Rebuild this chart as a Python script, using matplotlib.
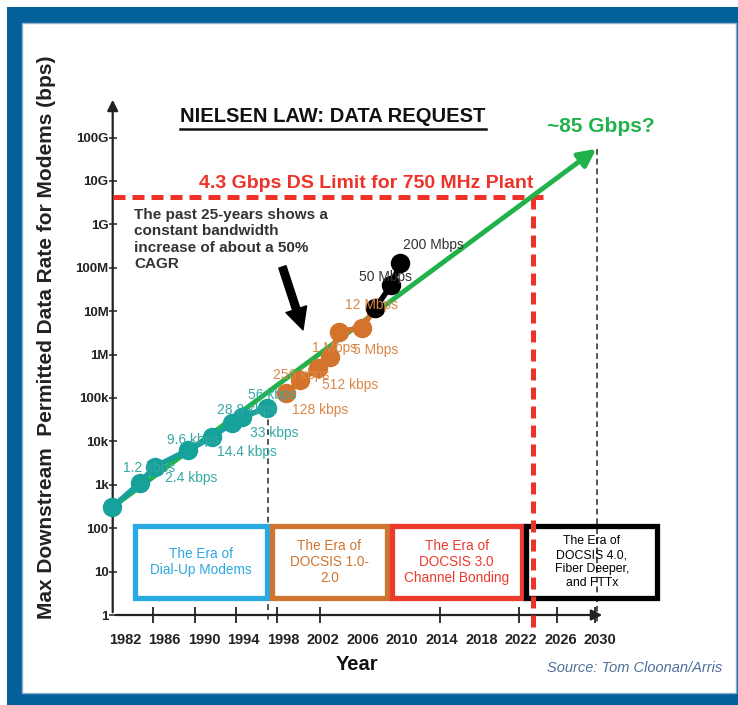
import numpy as np
import matplotlib.pyplot as plt
from matplotlib.patches import Rectangle
from matplotlib.lines import Line2D
from matplotlib.ticker import FixedLocator, NullLocator

plt.rcParams['font.family'] = ['Liberation Sans', 'DejaVu Sans']

W, H = 738, 705

# --- data ---
dial_years = [1980.7, 1983.5, 1985.0, 1988.4, 1990.8, 1992.8, 1993.8, 1996.3]
dial_bps = [300, 1.1e3, 2.6e3, 6.3e3, 1.26e4, 2.65e4, 3.6e4, 5.9e4]
dial_labels = ['300 bps', '1.2 kbps', '2.4 kbps', '9.6 kbps', '14.4 kbps',
               '28.8 kbps', '33 kbps', '56 kbps']

docsis_years = [1998.3, 1999.7, 2001.5, 2002.7, 2003.6, 2005.9, 2007.3]
docsis_bps = [1.29e5, 2.57e5, 4.8e5, 8.9e5, 3.4e6, 4.1e6, 1.2e7]
docsis_labels = ['128 kbps', '256 kbps', '512 kbps', '1 Mbps', '', '5 Mbps', '12 Mbps']

d3_years = [2007.3, 2008.9, 2009.8]
d3_bps = [1.2e7, 4.0e7, 1.26e8]
d3_labels = ['', '50 Mbps', '200 Mbps']

trend_years = [1980.7, 2029.6]
trend_bps = [300, 5.5e10]

limit_bps = 4.3e9
limit_year = 2023.2

era_names = ['The Era of\nDial-Up Modems',
             'The Era of\nDOCSIS 1.0-\n2.0',
             'The Era of\nDOCSIS 3.0\nChannel Bonding',
             'The Era of\nDOCSIS 4.0,\nFiber Deeper,\nand FTTx']
era_bounds = [1982.8, 1996.6, 2008.7, 2022.3, 2036.0]
era_colors = ['#2aaae2', '#cf7530', '#ee3a2c', '#000000']
era_sizes = [9.8, 9.8, 9.8, 8.8]

year_ticks = list(range(1982, 2031, 4))
tick_marks = [1984.8, 1989.1, 1993.2, 1997.4, 2001.7, 2006.0, 2010.0,
              2013.8, 2018.0, 2021.8, 2025.6, 2029.5]
rate_labels = ['1', '10', '100', '1k', '10k', '100k', '1M', '10M', '100M', '1G', '10G', '100G']

TEAL = '#17a19b'
ORANGE = '#d4742c'
GREEN = '#22b24c'
RED = '#ee3229'

# label offsets (pixels) from each dot
dial_off = [(10, -10), (-17, 15), (10, -11), (-21, 10), (5, -15), (-15, 13), (8, -16), (-19, 13)]
docsis_off = [(6, -17), (-27, 5), (4, -17), (-18, 9), (0, 0), (-9, -22), (-30, 3)]
d3_off = [(0, 0), (-32, 8), (3, 18)]


def fx(px):
    return px / W


def fy(py):
    return 1 - py / H


fig = plt.figure(figsize=(W / 100, H / 100), dpi=100)

# blue frame
fig.patches.append(Rectangle((fx(7), 0), 1 - fx(7), fy(7), transform=fig.transFigure,
                             facecolor='#03609a', edgecolor='none', zorder=-3))
fig.patches.append(Rectangle((fx(22), fy(693)), fx(736.5) - fx(22), fy(23) - fy(693),
                             transform=fig.transFigure, facecolor='white',
                             edgecolor='#8fb0cc', lw=1, zorder=-2))

ax = fig.add_axes([fx(112.7), fy(615), fx(605) - fx(112.7), fy(97) - fy(615)])
ax.patch.set_visible(False)
ax.set_yscale('log')
ax.set_xlim(1980.76, 2030.48)
ax.set_ylim(1, 10 ** 11.935)
for s in ax.spines.values():
    s.set_visible(False)

# axes with arrow heads
ax.annotate('', xy=(1, 0), xytext=(0, 0), xycoords='axes fraction',
            arrowprops=dict(arrowstyle='-|>', color='#222222', lw=1.6, mutation_scale=16))
ax.annotate('', xy=(0, 1), xytext=(0, 0), xycoords='axes fraction',
            arrowprops=dict(arrowstyle='-|>', color='#222222', lw=1.6, mutation_scale=16))

ax.yaxis.set_major_locator(FixedLocator([10.0 ** i for i in range(12)]))
ax.yaxis.set_minor_locator(NullLocator())
ax.set_yticklabels(rate_labels, fontsize=9.5, fontweight='bold', color='#222222')
ax.tick_params(axis='y', direction='inout', length=6, width=1.1, color='#222222', pad=0)

ax.set_xticks(year_ticks)
ax.set_xticklabels([str(y) for y in year_ticks], fontsize=10.5,
                   fontweight='bold', color='#222222')
ax.set_xticks(tick_marks, minor=True)
ax.tick_params(axis='x', which='major', length=0, pad=13)
ax.tick_params(axis='x', which='minor', direction='inout', length=12, width=1.3, color='#222222')

# guide lines
ax.plot([1996.4, 1996.4], [9e4, 0.7], ls=(0, (3, 2)), color='#555555', lw=1.4, clip_on=False)
ax.plot([trend_years[1] + 0.1] * 2, [trend_bps[1], 0.7], ls=(0, (3, 2)), color='#555555',
        lw=1.4, clip_on=False)

# red limit
ax.plot([ax.get_xlim()[0], limit_year + 1.2], [limit_bps, limit_bps], color=RED, lw=3.6,
        dashes=(2.4, 1.4), clip_on=False, zorder=3)
ax.plot([limit_year, limit_year], [limit_bps, 0.53], color=RED, lw=3.6,
        dashes=(2.4, 1.4), clip_on=False, zorder=3)

# trend arrow
ax.annotate('', xy=(trend_years[1], trend_bps[1]), xytext=(trend_years[0], trend_bps[0]),
            arrowprops=dict(arrowstyle='-|>', color=GREEN, lw=3.5, mutation_scale=26,
                            shrinkA=0, shrinkB=0), zorder=4)

# series
for yrs, vals, col, labels, offs, lcol in [
        (dial_years, dial_bps, TEAL, dial_labels, dial_off, '#35a8a6'),
        (docsis_years, docsis_bps, ORANGE, docsis_labels, docsis_off, '#dc8748'),
        (d3_years, d3_bps, '#000000', d3_labels, d3_off, '#333333')]:
    ax.plot(yrs, vals, '-o', color=col, lw=4, ms=13, zorder=5, clip_on=False)
    for x, v, t, o in zip(yrs, vals, labels, offs):
        ax.annotate(t, (x, v), xytext=o, textcoords='offset pixels', ha='left',
                    va='center', fontsize=10, color=lcol, zorder=6)

# annotation arrow
ax.annotate('', xy=(1999.98, 10 ** 6.57), xytext=(1997.9, 10 ** 8.02),
            arrowprops=dict(arrowstyle='simple,head_width=1.3,head_length=1.3,tail_width=0.45',
                            color='black', mutation_scale=12, shrinkA=0, shrinkB=0))

# era boxes
inset = 0.25
for name, x0, x1, col, fs in zip(era_names, era_bounds[:-1], era_bounds[1:], era_colors, era_sizes):
    ax.add_patch(Rectangle((x0 + inset, 2.5), x1 - x0 - 2 * inset, 112, fill=False,
                           edgecolor=col, lw=3.8, clip_on=False, zorder=2))
    ax.text((x0 + x1) / 2, 16.6, name, ha='center', va='center', fontsize=fs,
            color=col, linespacing=1.2, zorder=2, clip_on=False)

# figure texts
fig.text(fx(333), fy(116), 'NIELSEN LAW: DATA REQUEST', fontsize=14.5,
         fontweight='bold', ha='center', va='center', color='#111111')
fig.add_artist(Line2D([fx(180), fx(486)], [fy(129), fy(129)], color='#111111', lw=1.8,
                      transform=fig.transFigure))
fig.text(fx(366), fy(183), '4.3 Gbps DS Limit for 750 MHz Plant', fontsize=14,
         fontweight='bold', color=RED, ha='center', va='center')
fig.text(fx(601), fy(127), '~85 Gbps?', fontsize=15, fontweight='bold', color=GREEN,
         ha='center', va='center')
fig.text(fx(134), fy(208), 'The past 25-years shows a\nconstant bandwidth\n'
         'increase of about a 50%\nCAGR', fontsize=11, fontweight='bold', color='#333333',
         ha='left', va='top', linespacing=1.22)
fig.text(fx(47), fy(337), 'Max Downstream  Permitted Data Rate for Modems (bps)',
         rotation=90, fontsize=15, fontweight='bold', color='#222222',
         ha='center', va='center')
fig.text(fx(357), fy(665), 'Year', fontsize=14.5, fontweight='bold',
         color='#111111', ha='center', va='center')
fig.text(fx(722), fy(668), 'Source: Tom Cloonan/Arris', fontsize=10.5, style='italic',
         color='#4f6f9a', ha='right', va='center')

plt.savefig('out.png', dpi=100)
